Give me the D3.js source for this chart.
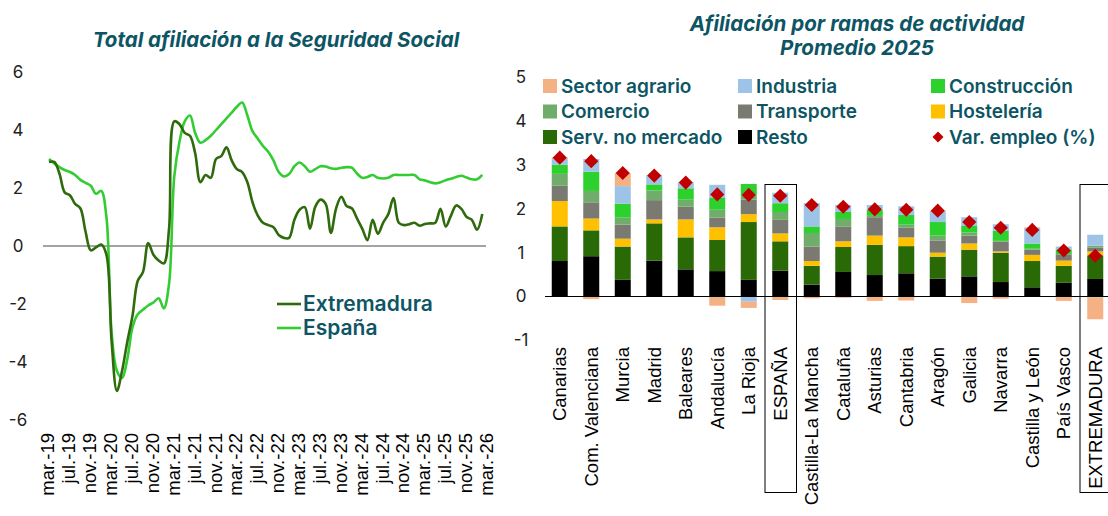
<!DOCTYPE html>
<html>
<head>
<meta charset="utf-8">
<script src="https://cdn.jsdelivr.net/npm/d3@7"></script>
<style>
  body { margin: 0; background: #fff; }
  svg { display: block; }
</style>
</head>
<body>
<div id="viz"></div>
<script>
"use strict";

const w = 1108;
const h = 516;

// ---- left chart data (monthly, mar-19 .. feb-26) ----
const extremadura = [
  2.9, 2.9, 2.5, 1.85, 1.75, 1.45, 1.3, 0.5, -0.15, -0.05,
  0.05, -0.3, -3.3, -5.0, -4.3, -3.3, -2.4, -1.2, -0.9, 0.1,
  -0.3, -0.5, -0.6, 0.6, 4.3, 4.2, 3.9, 3.8, 3.2, 2.2,
  2.45, 2.35, 3.0, 3.1, 3.4, 2.95, 2.65, 2.55, 2.2, 1.5,
  1.05, 0.8, 0.72, 0.65, 0.38, 0.28, 0.28, 0.9, 1.25, 1.34,
  0.6, 1.35, 1.6, 1.45, 0.45, 1.3, 1.7, 1.38, 1.3, 0.95,
  0.6, 0.2, 0.9, 0.42, 0.8, 1.1, 1.65, 0.8, 0.72, 0.75,
  0.8, 0.7, 0.76, 0.78, 0.8, 1.28, 0.67, 1.05, 1.4, 1.28,
  1.0, 0.9, 0.56, 1.1
];
const espana = [
  3.0, 2.85, 2.72, 2.62, 2.55, 2.45, 2.28, 2.18, 2.08, 1.8,
  1.9, 1.0, -3.0, -4.3, -4.55, -3.9, -2.8, -2.35, -2.2, -2.05,
  -1.95, -1.8, -2.15, -1.3, 2.4, 3.6, 4.3, 4.5, 3.9, 3.56,
  3.65, 3.8, 4.0, 4.2, 4.4, 4.6, 4.8, 4.95, 4.5, 3.95,
  3.7, 3.45, 3.25, 2.95, 2.55, 2.4, 2.48, 2.75, 2.88, 2.75,
  2.56, 2.65, 2.75, 2.74, 2.68, 2.66, 2.7, 2.72, 2.7, 2.5,
  2.35, 2.38, 2.45, 2.35, 2.33, 2.35, 2.45, 2.45, 2.45, 2.45,
  2.45, 2.3, 2.26, 2.2, 2.16, 2.2, 2.27, 2.32, 2.38, 2.42,
  2.36, 2.3, 2.3, 2.45
];
const monthTicks = [
  "mar.-19", "jul.-19", "nov.-19", "mar.-20", "jul.-20", "nov.-20",
  "mar.-21", "jul.-21", "nov.-21", "mar.-22", "jul.-22", "nov.-22",
  "mar.-23", "jul.-23", "nov.-23", "mar.-24", "jul.-24", "nov.-24",
  "mar.-25", "jul.-25", "nov.-25", "mar.-26"
];
const leftYTicks = [-6, -4, -2, 0, 2, 4, 6];

// ---- right chart data ----
const regions = [
  "Canarias", "Com. Valenciana", "Murcia", "Madrid", "Baleares", "Andalucía",
  "La Rioja", "ESPAÑA", "Castilla-La Mancha", "Cataluña", "Asturias",
  "Cantabria", "Aragón", "Galicia", "Navarra", "Castilla y León",
  "País Vasco", "EXTREMADURA"
];
const resto        = [0.81, 0.92, 0.38, 0.82, 0.62, 0.58, 0.38, 0.59, 0.27, 0.56, 0.49, 0.53, 0.41, 0.46, 0.33, 0.21, 0.32, 0.40];
const servNoMerc   = [0.79, 0.59, 0.76, 0.85, 0.73, 0.71, 1.32, 0.67, 0.43, 0.57, 0.69, 0.62, 0.50, 0.61, 0.67, 0.60, 0.38, 0.54];
const hosteleria   = [0.58, 0.27, 0.18, 0.09, 0.41, 0.29, 0.18, 0.18, 0.11, 0.13, 0.21, 0.20, 0.09, 0.14, 0.03, 0.14, 0.12, 0.09];
const transporte   = [0.35, 0.37, 0.32, 0.44, 0.29, 0.22, 0.33, 0.31, 0.33, 0.34, 0.42, 0.22, 0.28, 0.18, 0.22, 0.12, 0.13, 0.09];
const comercio     = [0.27, 0.26, 0.16, 0.22, 0.16, 0.18, 0.10, 0.18, 0.31, 0.17, 0.03, 0.07, 0.11, 0.07, 0.02, 0.02, 0.02, 0.04];
const construccion = [0.21, 0.44, 0.32, 0.14, 0.26, 0.27, 0.26, 0.20, 0.15, 0.16, 0.14, 0.22, 0.31, 0.15, 0.23, 0.12, 0.10, -0.02];
const industria    = [0.13, 0.29, 0.40, 0.21, 0.12, 0.30, -0.12, 0.24, 0.53, 0.16, 0.11, 0.20, 0.23, 0.20, 0.15, 0.35, 0.07, 0.25];
const agrario      = [0.04, -0.06, 0.30, 0.00, 0.02, -0.21, -0.14, -0.08, -0.04, -0.03, -0.10, -0.09, 0.03, -0.15, -0.05, 0.02, -0.10, -0.50];
const varEmpleo    = [3.17, 3.09, 2.82, 2.76, 2.60, 2.33, 2.32, 2.30, 2.09, 2.05, 1.99, 1.98, 1.96, 1.70, 1.57, 1.52, 1.05, 0.93];
const rightYTicks = [-1, 0, 1, 2, 3, 4, 5];

const seriesKeys = ["resto", "serv", "host", "trans", "com", "constr", "ind", "agr"];
const seriesData = {
  resto: resto, serv: servNoMerc, host: hosteleria, trans: transporte,
  com: comercio, constr: construccion, ind: industria, agr: agrario
};
const seriesColor = {
  agr: "#f4b183", ind: "#9dc3e6", constr: "#2dd12d", com: "#70ad6a",
  trans: "#7a7a72", host: "#ffc000", serv: "#296a06", resto: "#000000"
};
const legendItems = [
  { key: "agr", label: "Sector agrario" }, { key: "ind", label: "Industria" }, { key: "constr", label: "Construcción" },
  { key: "com", label: "Comercio" }, { key: "trans", label: "Transporte" }, { key: "host", label: "Hostelería" },
  { key: "serv", label: "Serv. no mercado" }, { key: "resto", label: "Resto" }, { key: "var", label: "Var. empleo (%)" }
];

const teal = "#0d5565";
const labelFont = "'Liberation Sans', Arial, sans-serif";
const uiFont = "Inter, 'Noto Sans', sans-serif";

const svg = d3.select("#viz")
  .append("svg")
  .attr("width", w)
  .attr("height", h);

// ================= LEFT CHART =================
const xL = d3.scaleLinear().domain([0, 84]).range([49, 487.5]);
const yL = d3.scaleLinear().domain([-6, 6]).range([420, 72]);

svg.append("text")
  .attr("x", 276).attr("y", 47)
  .attr("text-anchor", "middle")
  .style("font-family", uiFont).style("font-size", "20.5px")
  .style("font-weight", 700).style("font-style", "italic")
  .attr("fill", teal)
  .text("Total afiliación a la Seguridad Social");

svg.append("g").selectAll("text")
  .data(leftYTicks)
  .join("text")
  .attr("x", 18).attr("y", d => yL(d))
  .attr("dy", "0.35em")
  .attr("text-anchor", "middle")
  .style("font-family", uiFont).style("font-size", "17px")
  .attr("fill", "#222")
  .text(d => d);

svg.append("line")
  .attr("x1", 43).attr("x2", 486)
  .attr("y1", yL(0)).attr("y2", yL(0))
  .attr("stroke", "#858585").attr("stroke-width", 1.5);

svg.append("g").selectAll("text")
  .data(monthTicks)
  .join("text")
  .attr("transform", (d, i) => `translate(${xL(i * 4) - 1},433) rotate(-90)`)
  .attr("dy", "0.35em")
  .attr("text-anchor", "end")
  .style("font-family", labelFont).style("font-size", "18.5px")
  .attr("fill", "#000")
  .text(d => d);

const line = d3.line()
  .x((d, i) => xL(i))
  .y(d => yL(d))
  .curve(d3.curveCatmullRom.alpha(0.5));

svg.append("path")
  .datum(espana)
  .attr("d", line)
  .attr("fill", "none")
  .attr("stroke", "#33cc33")
  .attr("stroke-width", 2.6);

svg.append("path")
  .datum(extremadura)
  .attr("d", line)
  .attr("fill", "none")
  .attr("stroke", "#2f6a0c")
  .attr("stroke-width", 2.6);

const leftLegend = [
  { label: "Extremadura", color: "#2f6a0c" },
  { label: "España", color: "#33cc33" }
];
const ll = svg.append("g").selectAll("g")
  .data(leftLegend)
  .join("g")
  .attr("transform", (d, i) => `translate(277,${304 + i * 24})`);
ll.append("line")
  .attr("x1", 0).attr("x2", 24)
  .attr("stroke", d => d.color).attr("stroke-width", 2.6);
ll.append("text")
  .attr("x", 26).attr("dy", "0.35em")
  .style("font-family", uiFont).style("font-size", "21px").style("font-weight", 600)
  .attr("fill", teal)
  .text(d => d.label);

// ================= RIGHT CHART =================
const xR = d3.scalePoint().domain(regions).range([544, 1111]).padding(0.5);
const step = xR.step();
const barW = 16;
const yR = d3.scaleLinear().domain([-1, 5]).range([340.3, 77.5]);

const titleR = svg.append("text")
  .attr("text-anchor", "middle")
  .style("font-family", uiFont).style("font-size", "20.6px")
  .style("font-weight", 700).style("font-style", "italic")
  .attr("fill", teal);
titleR.append("tspan").attr("x", 857).attr("y", 31).text("Afiliación por ramas de actividad");
titleR.append("tspan").attr("x", 857).attr("y", 55).text("Promedio 2025");

svg.append("g").selectAll("text")
  .data(rightYTicks)
  .join("text")
  .attr("x", 521).attr("y", d => yR(d))
  .attr("dy", "0.35em")
  .attr("text-anchor", "middle")
  .style("font-family", uiFont).style("font-size", "17px")
  .attr("fill", "#222")
  .text(d => d);

// legend
const lg = svg.append("g").selectAll("g")
  .data(legendItems)
  .join("g")
  .attr("transform", (d, i) => `translate(${[543, 738, 931][i % 3]},${86 + Math.floor(i / 3) * 25.5})`);
lg.filter(d => d.key !== "var").append("rect")
  .attr("x", 0).attr("y", -7).attr("width", 14).attr("height", 14)
  .attr("fill", d => seriesColor[d.key]);
lg.filter(d => d.key === "var").append("path")
  .attr("d", d3.symbol(d3.symbolSquare, 60)())
  .attr("transform", "translate(7,0) rotate(45)")
  .attr("fill", "#c00000");
lg.append("text")
  .attr("x", 18).attr("dy", "0.35em")
  .style("font-family", uiFont).style("font-size", "19px").style("font-weight", 600)
  .attr("fill", teal)
  .text(d => d.label);

// stacked bars
const table = regions.map((r, i) => {
  const row = { region: r };
  seriesKeys.forEach(k => { row[k] = seriesData[k][i]; });
  return row;
});
const stack = d3.stack()
  .keys(seriesKeys)
  .offset(d3.stackOffsetDiverging);
const stacked = stack(table);

svg.append("g").selectAll("g")
  .data(stacked)
  .join("g")
  .attr("fill", d => seriesColor[d.key])
  .selectAll("rect")
  .data(d => d)
  .join("rect")
  .attr("x", d => xR(d.data.region) - barW / 2)
  .attr("width", barW)
  .attr("y", d => yR(Math.max(d[0], d[1])))
  .attr("height", d => Math.abs(yR(d[0]) - yR(d[1])));

svg.append("line")
  .attr("x1", 545).attr("x2", 1108)
  .attr("y1", yR(0)).attr("y2", yR(0))
  .attr("stroke", "#000").attr("stroke-width", 1);

// highlight boxes
svg.append("g").selectAll("rect")
  .data(["ESPAÑA", "EXTREMADURA"])
  .join("rect")
  .attr("x", d => xR(d) - step / 2 + 0.5)
  .attr("y", 184.5)
  .attr("width", step)
  .attr("height", 308)
  .attr("fill", "none")
  .attr("stroke", "#000").attr("stroke-width", 1);

// diamonds
svg.append("g").selectAll("path")
  .data(varEmpleo)
  .join("path")
  .attr("d", d3.symbol(d3.symbolSquare, 100)())
  .attr("transform", (d, i) => `translate(${xR(regions[i])},${yR(d)}) rotate(45)`)
  .attr("fill", "#c00000");

// category labels
svg.append("g").selectAll("text")
  .data(regions)
  .join("text")
  .attr("transform", d => `translate(${xR(d)},347) rotate(-90)`)
  .attr("dy", "0.35em")
  .attr("text-anchor", "end")
  .style("font-family", labelFont).style("font-size", "18.5px")
  .attr("fill", "#000")
  .text(d => d);
</script>
</body>
</html>
